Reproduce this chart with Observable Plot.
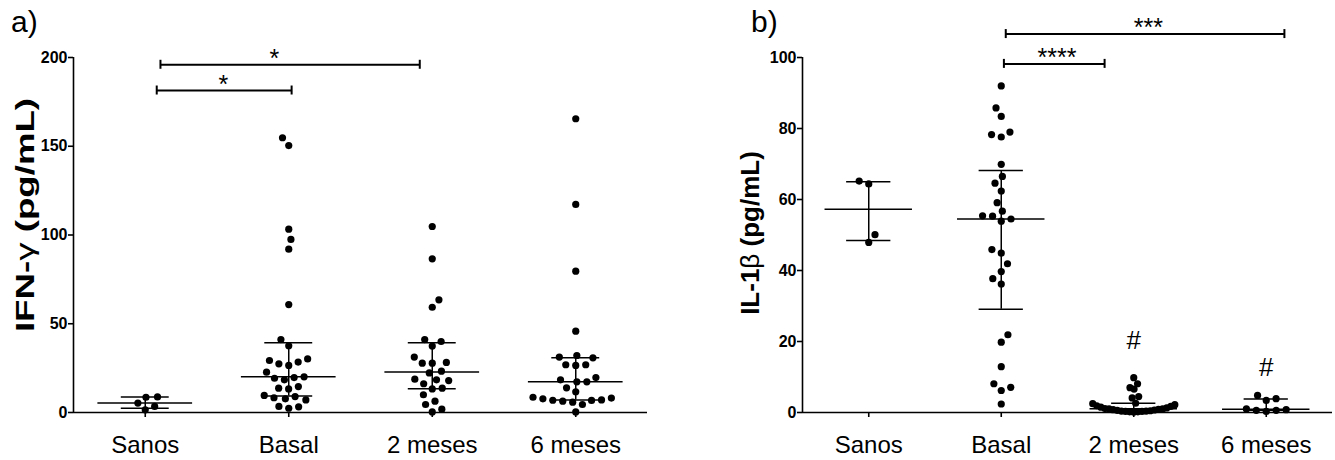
<!DOCTYPE html>
<html><head><meta charset="utf-8">
<script src="https://cdn.jsdelivr.net/npm/d3@7"></script>
<script src="https://cdn.jsdelivr.net/npm/@observablehq/plot@0.6"></script>
<style>
body{margin:0;background:#fff;}
#fig{position:relative;width:1335px;height:460px;font-family:"Liberation Sans",Arial,sans-serif;color:#000;overflow:hidden;background:#fff}
.panel{position:absolute;top:0}
.letter{position:absolute;font-size:30px;line-height:30px;top:7px}
.ytitle{position:absolute;font-weight:bold;font-size:26px;line-height:26px;white-space:nowrap;transform:translate(-50%,-50%) rotate(-90deg)}
.ytitle.stretch{transform:translate(-50%,-50%) rotate(-90deg) scaleX(1.41)}
.ytitle span{font-weight:normal}
#fig g[aria-label="y-axis tick label"]{font-weight:bold;font-size:16px}
#fig g[aria-label="y-axis tick label"] text{font-weight:bold}
#fig g[aria-label="x-axis tick label"]{font-size:24px}
</style></head>
<body>
<div id="fig">
  <div id="pa" class="panel" style="left:0"></div>
  <div id="pb" class="panel" style="left:667px"></div>
  <div class="letter" style="left:11px">a)</div>
  <div class="letter" style="left:751px">b)</div>
  <div class="ytitle stretch" style="left:24.5px;top:215px">IFN-<span>γ</span> (pg/mL)</div>
  <div class="ytitle" style="left:750px;top:233px">IL-1<span>β</span> (pg/mL)</div>
</div>
<script>
// ---- data ----
const cats = ["Sanos", "Basal", "2 meses", "6 meses"];

const ifnTicks = [0, 50, 100, 150, 200];
const ifnSanos = [8.8, 8.6, 5.3, 3.4, 1.5];
const ifnBasal = [154.8, 150.4, 103.3, 97.5, 92.0, 60.8, 41.1, 37.6, 30.2, 29.3, 28.4, 27.4, 26.5, 22.7, 20.1, 19.7, 19.3, 18.4, 14.6, 13.7, 13.3, 9.6, 9.0, 8.3, 7.7, 7.1, 3.4, 3.2, 2.4];
const ifn2m = [104.8, 86.6, 63.5, 59.3, 41.1, 40.0, 37.4, 31.2, 28.2, 27.8, 27.8, 23.3, 22.3, 18.8, 18.4, 18.0, 16.2, 13.7, 13.3, 10.0, 6.4, 4.5, 1.9, 0.3];
const ifn6m = [165.5, 117.2, 79.6, 45.8, 32.1, 31.2, 30.8, 26.9, 26.9, 26.5, 19.7, 18.4, 17.3, 17.3, 13.9, 11.7, 8.6, 8.1, 7.7, 7.1, 6.9, 6.8, 6.4, 5.8, 4.5, 0.3];
// significance brackets (x in category units, y in data units)
const ifnSig = [
  {x1: 0.08, x2: 1.02, y: 181.4, tx: 0.545, label: "*"},
  {x1: 0.106, x2: 1.913, y: 195.9, tx: 0.90, label: "*"}
];

const il1Ticks = [0, 20, 40, 60, 80, 100];
const il1Sanos = [65.2, 64.4, 50.1, 47.9];
const il1Basal = [92.0, 85.8, 83.4, 79.0, 78.3, 77.6, 69.9, 66.5, 64.6, 62.4, 59.1, 56.7, 55.4, 55.3, 54.5, 53.9, 45.9, 44.9, 41.9, 39.7, 37.7, 36.2, 21.9, 19.8, 12.9, 8.1, 7.1, 6.2, 2.4];
const il12m = [9.8, 8.1, 7.0, 6.6, 4.5, 4.1, 2.6, 2.5, 2.2, 1.9, 1.7, 1.5, 1.3, 1.1, 1.0, 1.0, 0.9, 0.8, 0.7, 0.6, 0.5, 0.4, 0.4, 0.3, 0.3, 0.2, 0.2, 0.1];
const il16m = [4.8, 3.9, 3.4, 1.0, 0.8, 0.6, 0.6, 0.3];
const il1Sig = [
  {x1: 1.02, x2: 1.78, y: 98.2, tx: 1.42, label: "****"},
  {x1: 1.034, x2: 3.137, y: 106.6, tx: 2.11, label: "***"}
];
const il1Hash = [
  {i: 2, y: 20.3, label: "#"},
  {i: 3, y: 12.7, label: "#"}
];

// ---- helpers ----
// quartiles as GraphPad computes them ((n+1)p rank)
function quart(sorted, p) {
  const n = sorted.length, h = (n + 1) * p, lo = Math.floor(h);
  if (lo < 1) return sorted[0];
  if (lo >= n) return sorted[n - 1];
  return sorted[lo - 1] + (h - lo) * (sorted[lo] - sorted[lo - 1]);
}
function place(vals, k, sx, sy) {
  const n = vals.length, order = d3.range(n).sort((a, b) => vals[a] - vals[b]);
  const placed = [], xs = new Array(n);
  let side = -1;
  for (const i of order) {
    const y = vals[i] * k;
    const near = placed.filter(p => Math.abs(p.y - y) < sy);
    const cands = [0];
    for (const p of near) {
      const t = (y - p.y) / sy, w = sx * Math.sqrt(Math.max(0, 1 - t * t));
      cands.push(p.x + w, p.x - w);
    }
    const ok = cands.filter(c => near.every(p => {
      const a = (c - p.x) / sx, b = (y - p.y) / sy; return a * a + b * b >= 0.999;
    }));
    ok.sort((a, b) => { const d = Math.abs(a) - Math.abs(b); return Math.abs(d) > 0.01 ? d : side * (a - b); });
    const x = ok[0];
    if (x !== 0) side = -side;
    placed.push({x, y}); xs[i] = x;
  }
  return xs;
}
function swarm(vals, k, limit) {
  let sx = 10, xs;
  for (let it = 0; it < 8; it++) {
    xs = place(vals, k, sx, 10);
    const m = d3.max(xs, Math.abs);
    if (m <= limit) break;
    sx *= limit / m;
  }
  const m = d3.max(xs, Math.abs);
  if (m > limit) xs = xs.map(x => x * limit / m);
  return xs;
}

function panel({groups, yMax, ticks, sig, hash, width, marginLeft, marginRight}) {
  const height = 460, marginTop = 57, marginBottom = 48;
  const xDomain = [-0.5, 3.5];
  const k = (height - marginTop - marginBottom) / yMax;
  const stepPx = (width - marginLeft - marginRight) / cats.length;
  const pts = [], sum = [];
  groups.forEach((vals, i) => {
    const offs = swarm(vals, k, stepPx * 0.31);
    vals.forEach((v, j) => pts.push({x: i + offs[j] / stepPx, y: v}));
    const s = [...vals].sort((a, b) => a - b);
    sum.push({i, med: quart(s, 0.5), q1: quart(s, 0.25), q3: quart(s, 0.75)});
  });
  const marks = [
    Plot.ruleY([0], {x1: xDomain[0], x2: xDomain[1], strokeWidth: 1.6}),
    Plot.ruleX([xDomain[0]], {y1: 0, y2: yMax, strokeWidth: 1.6}),
    Plot.axisY({ticks, tickSize: 5, tickPadding: 1, fontSize: 16, fontWeight: "bold", label: null, strokeWidth: 1.6}),
    Plot.axisX({ticks: d3.range(cats.length), tickFormat: i => cats[i], tickSize: 5, tickPadding: 18, fontSize: 24, label: null, strokeWidth: 1.6}),
    Plot.ruleY(sum, {y: "med", x1: d => d.i - 0.33, x2: d => d.i + 0.33, strokeWidth: 1.5}),
    Plot.ruleY(sum, {y: "q1", x1: d => d.i - 0.167, x2: d => d.i + 0.167, strokeWidth: 1.5}),
    Plot.ruleY(sum, {y: "q3", x1: d => d.i - 0.167, x2: d => d.i + 0.167, strokeWidth: 1.5}),
    Plot.ruleX(sum, {x: "i", y1: "q1", y2: "q3", strokeWidth: 1.5}),
    Plot.dot(pts, {x: "x", y: "y", r: 3.6, fill: "black", stroke: null}),
    Plot.ruleY(sig, {y: "y", x1: "x1", x2: "x2", strokeWidth: 2}),
    Plot.ruleX(sig, {x: "x1", y1: "y", y2: "y", insetTop: -4.5, insetBottom: -4.5, strokeWidth: 2}),
    Plot.ruleX(sig, {x: "x2", y1: "y", y2: "y", insetTop: -4.5, insetBottom: -4.5, strokeWidth: 2}),
    Plot.text(sig, {x: "tx", y: "y", text: "label", fontSize: 25, lineAnchor: "bottom", dy: 2})
  ];
  if (hash) marks.push(Plot.text(hash, {x: "i", y: "y", text: "label", fontSize: 26}));
  return Plot.plot({
    width, height, marginLeft, marginRight, marginTop, marginBottom,
    style: {fontFamily: "'Liberation Sans', Arial, sans-serif", color: "black", background: "white", overflow: "visible"},
    x: {type: "linear", domain: xDomain},
    y: {domain: [0, yMax]},
    marks
  });
}

document.getElementById("pa").appendChild(panel({
  groups: [ifnSanos, ifnBasal, ifn2m, ifn6m], yMax: 200, ticks: ifnTicks, sig: ifnSig,
  width: 667, marginLeft: 73, marginRight: 20
}));
document.getElementById("pb").appendChild(panel({
  groups: [il1Sanos, il1Basal, il12m, il16m], yMax: 100, ticks: il1Ticks, sig: il1Sig, hash: il1Hash,
  width: 668, marginLeft: 135, marginRight: 3
}));
</script>
</body></html>
